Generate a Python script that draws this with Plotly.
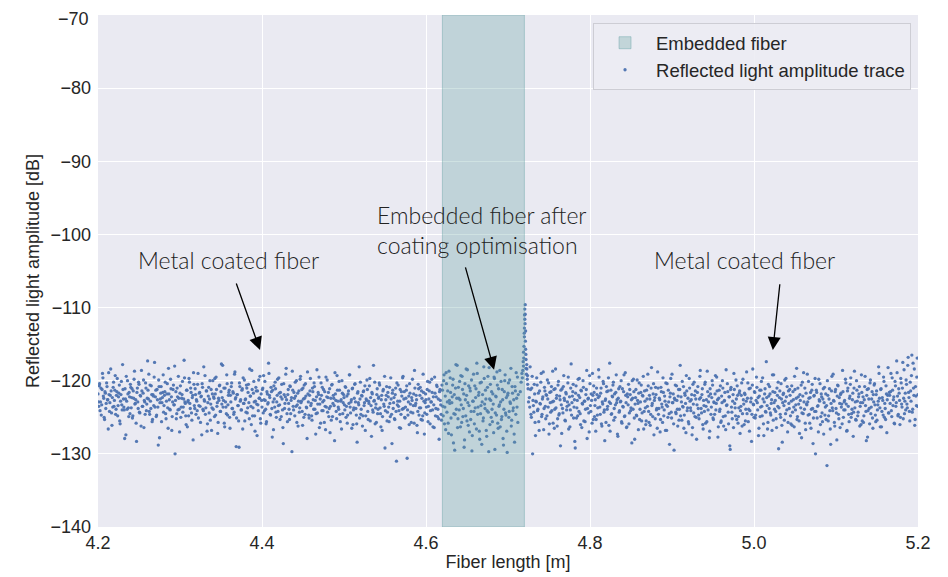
import plotly.graph_objects as go

# ---------------- data ----------------
sample_step = 0.001  # 1 mm sampling of the trace

# Left metal-coated section, first pass of samples from 4.2000 m
left_start = 4.2000
left_y = [
    -121.8,-123.5,-120.4,-122.9,-124.7,-121.2,-119.6,-122.4,-125.3,-121.7,-123.1,-120.8,-122.6,-118.9,-124.2,-122.0,-121.4,-126.1,-123.6,-120.2,
    -122.7,-119.3,-123.9,-121.5,-124.8,-122.2,-120.6,-125.9,-121.9,-123.3,-117.8,-122.5,-124.0,-121.1,-127.4,-122.8,-120.0,-123.7,-121.6,-124.5,
    -120.9,-122.3,-125.1,-121.4,-119.8,-123.2,-122.6,-128.3,-121.0,-123.8,-120.5,-124.4,-122.1,-118.6,-123.5,-121.7,-126.4,-122.9,-120.3,-124.1,
    -122.4,-121.3,-119.1,-124.6,-122.8,-120.7,-125.6,-121.9,-123.4,-117.5,-122.2,-124.9,-121.2,-123.6,-119.9,-127.8,-122.5,-120.8,-123.0,-121.6,
    -124.3,-122.0,-120.2,-125.2,-121.8,-123.7,-118.3,-122.6,-124.0,-121.1,-126.8,-122.9,-120.6,-123.3,-130.0,-121.5,-124.5,-122.2,-119.4,-123.9,
    -121.7,-125.0,-122.4,-120.1,-123.6,-117.2,-122.9,-124.8,-121.3,-126.3,-122.7,-119.7,-123.1,-121.0,-124.4,-122.3,-128.1,-120.5,-123.8,-121.9,
    -122.6,-124.1,-119.0,-123.4,-121.6,-125.7,-122.1,-120.4,-123.9,-118.1,-122.8,-124.6,-121.4,-126.9,-123.0,-120.9,-122.5,-125.4,-121.2,-123.7,
    -120.0,-122.2,-124.9,-121.8,-119.5,-123.5,-127.2,-122.4,-120.7,-124.2,-121.5,-123.2,-117.9,-122.7,-125.8,-121.0,-123.6,-119.2,-124.7,-122.0,
    -121.3,-126.5,-122.9,-120.3,-123.8,-121.7,-124.3,-118.8,-122.3,-125.1,-121.9,-123.4,-129.1,-120.8,-122.6,-124.0,-121.1,-119.6,-123.1,-125.5,
    -122.5,-120.6,-124.4,-121.6,-123.0,-118.4,-122.1,-126.0,-121.2,-123.7,-120.1,-124.8,-122.8,-121.4,-127.5,-123.3,-119.9,-122.4,-125.2,-121.8,
    -123.6,-121.0,-119.3,-124.1,-122.7,-125.9,-121.5,-123.2,-117.6,-122.0,-124.6,-120.9,-123.8,-121.3,-126.7,-122.5,-120.2,-124.3,-122.9,-119.8,
    -123.4,-121.7,-125.3,-122.2,-120.5,-124.0,-128.6,-121.9,-123.1,-119.1,-122.6,-125.6,-121.2,-123.9,-120.7,-124.5,-122.3,-118.7,-123.5,-121.6,
    -124.8,-122.1,-120.0,-123.3,-126.2,-121.4,-123.7,-119.4,-122.8,-124.2,-121.0,-125.0,-122.4,-120.4,-123.6,-127.9,-121.8,-124.7,-122.0,-119.7,
    -123.1,-125.4,-121.5,-123.9,-120.8,-122.7,-124.5,-118.5,-123.2,-121.9,-126.4,-122.5,-120.3,-124.1,-122.9,-121.2,-125.7,-123.5,-119.5,-122.2,
    -124.3,-121.6,-123.8,-127.1,-122.4,-120.6,-124.9,-122.0,-123.4,-118.9,-122.7,-125.2,-121.3,-123.6,-120.1,-124.6,-122.8,-126.6,-121.7,-123.0,
    -122.3,-124.0,-120.9,-123.5,-125.8,-121.8,-123.1,-119.2,-124.4,-122.6,-121.1,-126.0,-123.7,-120.5,-122.9,-124.7,-128.4,-121.5,-123.3,-125.1,
    -120.2,-123.9,-122.1,-124.8,-121.4,-123.0,-126.8,-122.5,-119.9,-124.2,-122.8,-120.7,-125.5,-123.4,-121.6,-124.0,-117.9,-122.7,-125.9,-123.2,
    -121.9,-124.5,-122.4,-120.3,-123.7,-126.3,-122.0,-124.9,-121.2,-123.5,-129.2,-122.6,-120.8,-124.3,-122.2,-125.6,-123.1,-119.6,-124.6,-121.7,
    -123.8,-122.3,-125.3,-121.0,-131.0,-123.3,-120.6,-124.1,-122.8,-126.5,-121.5,-123.9,-119.4,-122.5,-125.0,-123.6,-121.3,-130.6,-124.7,-122.1,
    -120.4,-123.2,-125.7,-122.7,-124.4,-121.8,-118.6,-123.4,-122.0,-126.1,-124.2,-121.1,-123.7,-120.9,-125.3,-122.4,-124.8,-121.6,-127.3,-123.0,
    -122.6,-124.6,-120.1,-123.5,-121.4,-125.9,-122.9,-119.8,-124.0,-122.2,-126.4,-121.7,-123.8,-120.6,-124.9,-122.5,-128.0,-121.2,-123.3,-125.4,
]
# Left section, second pass of samples from 4.2005 m
left2_start = 4.2005
left2_y = [
    -122.9,-120.7,-124.1,-121.0,-123.3,-119.0,-122.1,-125.0,-121.5,-123.8,-120.3,-122.6,-126.6,-121.9,-123.0,-118.4,-124.4,-122.3,-120.9,-123.5,
    -121.3,-124.6,-122.0,-119.7,-123.4,-121.7,-125.5,-122.8,-120.1,-124.0,-121.2,-123.6,-127.9,-122.5,-119.4,-123.9,-121.8,-124.9,-122.2,-120.5,
    -123.7,-121.1,-124.8,-122.4,-118.7,-123.1,-125.8,-121.6,-122.9,-120.2,-124.3,-122.0,-126.2,-121.4,-123.5,-119.9,-122.7,-124.6,-121.0,-123.2,
    -117.3,-122.5,-124.2,-120.6,-123.8,-121.9,-125.3,-122.1,-119.5,-123.6,-121.3,-124.7,-122.6,-128.8,-120.8,-123.0,-121.7,-125.6,-122.3,-119.2,
    -123.4,-121.5,-124.5,-122.8,-120.4,-126.5,-121.8,-123.9,-119.8,-122.2,-124.9,-121.2,-123.3,-118.0,-122.7,-125.2,-121.0,-124.0,-122.4,-127.0,
    -120.7,-123.6,-121.9,-124.3,-122.5,-119.6,-123.1,-126.0,-121.3,-122.9,-124.8,-120.2,-123.8,-121.6,-125.4,-122.0,-118.9,-123.4,-121.1,-124.6,
    -122.8,-120.5,-125.1,-121.7,-123.5,-122.2,-127.4,-120.9,-124.1,-122.6,-119.3,-123.7,-121.4,-125.9,-122.1,-124.4,-120.0,-123.2,-126.8,-121.8,
    -123.9,-122.4,-119.7,-124.7,-121.2,-123.0,-125.7,-122.7,-120.6,-124.2,-117.7,-122.3,-123.6,-121.0,-126.3,-122.9,-124.5,-120.4,-123.3,-121.6,
    -125.0,-122.0,-120.8,-123.8,-121.5,-124.6,-119.1,-122.5,-129.0,-121.9,-123.4,-125.5,-120.3,-122.8,-124.0,-121.3,-126.6,-123.1,-119.9,-122.6,
    -124.3,-121.0,-123.7,-120.5,-125.2,-122.1,-123.5,-118.6,-124.8,-121.7,-122.9,-126.9,-120.9,-123.2,-121.4,-124.1,-122.4,-119.4,-125.8,-122.7,
    -121.2,-124.4,-122.6,-120.1,-123.9,-125.6,-121.8,-123.0,-119.0,-122.3,-124.7,-121.5,-127.7,-122.9,-120.7,-123.6,-121.1,-125.0,-122.0,-124.2,
    -119.6,-123.3,-121.6,-124.9,-122.5,-126.4,-120.4,-123.8,-122.2,-118.3,-124.5,-121.9,-123.1,-125.3,-120.8,-122.7,-129.7,-121.3,-124.0,-122.4,
    -120.2,-123.5,-125.7,-121.7,-122.8,-124.3,-119.8,-123.0,-121.2,-126.1,-122.5,-120.6,-124.6,-122.1,-123.7,-118.8,-122.9,-125.1,-121.4,-123.4,
    -124.8,-121.0,-122.6,-120.3,-123.9,-127.3,-122.2,-124.4,-121.6,-119.5,-123.2,-125.8,-122.0,-120.9,-124.1,-122.7,-121.5,-126.7,-123.6,-119.9,
    -122.3,-124.9,-121.1,-123.5,-125.4,-120.5,-123.1,-122.4,-128.2,-121.8,-124.2,-119.3,-122.8,-123.9,-121.3,-125.6,-122.6,-120.0,-124.5,-121.9,
    -123.3,-120.8,-125.0,-122.1,-124.7,-121.4,-119.2,-123.6,-122.9,-126.5,-121.0,-124.0,-122.4,-120.4,-123.8,-125.9,-121.7,-123.0,-118.1,-122.5,
    -124.6,-122.0,-126.2,-121.5,-123.4,-120.7,-124.8,-122.7,-121.2,-125.3,-123.1,-119.7,-122.3,-127.6,-121.8,-124.3,-122.8,-120.2,-123.7,-125.7,
    -121.1,-123.9,-122.2,-120.6,-124.5,-122.6,-126.8,-121.4,-123.2,-119.4,-124.1,-122.0,-125.5,-121.6,-123.6,-120.9,-124.9,-122.5,-128.6,-121.3,
    -123.0,-125.2,-121.9,-124.2,-120.3,-122.8,-123.5,-126.4,-121.2,-124.6,-122.1,-119.6,-123.8,-121.5,-125.1,-122.4,-120.7,-124.0,-122.9,-126.0,
    -121.7,-124.3,-122.3,-119.8,-123.4,-125.8,-121.0,-123.1,-122.6,-127.1,-120.5,-124.7,-122.0,-123.7,-121.4,-125.4,-119.1,-122.8,-124.4,-121.8,
    -123.6,-121.2,-125.6,-122.5,-120.2,-124.1,-122.9,-121.6,-126.3,-123.3,-119.5,-124.8,-122.2,-120.8,-123.9,-125.2,-121.5,-122.7,-124.6,-120.6,
]

# Embedded section (wider spread), two passes from 4.6200 m and 4.6205 m
emb_start = 4.6200
emb_y = [
    -121.3,-124.8,-119.2,-123.6,-126.7,-120.4,-122.9,-125.8,-118.7,-123.1,-121.6,-127.4,-122.2,-119.8,-124.5,-129.5,-121.0,-123.9,-117.9,-125.2,
    -122.4,-120.1,-126.3,-123.3,-119.4,-124.9,-121.8,-128.1,-122.6,-118.4,-125.5,-123.0,-120.7,-127.0,-121.4,-124.2,-129.6,-122.8,-119.1,-125.9,
    -123.7,-121.1,-117.6,-124.6,-122.0,-126.9,-120.3,-123.4,-128.7,-121.9,-125.1,-119.7,-123.8,-122.5,-127.6,-120.9,-124.3,-118.2,-126.0,-122.7,
    -121.5,-125.6,-123.2,-119.5,-129.4,-122.1,-124.7,-120.6,-126.5,-123.5,-118.6,-122.9,-125.3,-121.2,-127.9,-123.9,-120.0,-124.4,-122.3,-129.8,
    -121.7,-125.0,-119.9,-123.1,-126.2,-120.8,-124.1,-122.6,-128.4,-121.4,-118.9,-123.6,-125.7,
]
emb2_start = 4.6205
emb2_y = [
    -123.5,-120.0,-125.9,-122.1,-118.9,-124.3,-121.4,-127.2,-122.7,-119.6,-125.1,-123.0,-120.6,-128.5,-121.9,-124.6,-117.8,-122.4,-126.4,-120.9,
    -124.0,-122.6,-119.3,-125.7,-121.2,-123.8,-129.1,-120.4,-124.8,-122.0,-118.5,-126.1,-123.4,-121.0,-125.3,-119.9,-127.5,-122.8,-124.2,-120.7,
    -122.3,-126.6,-119.0,-123.6,-121.6,-128.0,-124.5,-120.2,-122.9,-125.5,-118.1,-123.2,-121.3,-126.8,-124.1,-119.4,-129.7,-122.5,-120.5,-125.0,
    -123.9,-121.8,-127.1,-119.7,-124.4,-122.2,-118.8,-125.8,-121.1,-123.3,-126.3,-120.1,-124.9,-122.6,-128.8,-121.5,-119.2,-124.7,-126.9,-122.0,
    -120.3,-124.2,-122.9,-118.3,-125.4,-121.7,-123.7,-127.3,-120.8,-124.6,-122.4,-119.5,-121.9,
]

# Reflection spike at the exit of the embedded section
spike_x = [4.7150,4.7160,4.7170,4.7175,4.7180,4.7185,4.7188,4.7190,4.7192,4.7195,4.7198,4.7200,4.7200,
           4.7202,4.7205,4.7205,4.7208,4.7210,4.7210,4.7212,4.7215,4.7215,4.7218,4.7220,4.7220,4.7225,
           4.7228,4.7230,4.7235,4.7238,4.7240,4.7245,4.7250]
spike_y = [-121.5,-120.2,-119.0,-119.6,-118.6,-117.4,-118.0,-116.1,-116.9,-115.3,-113.5,-114.0,-112.8,
           -111.0,-111.6,-110.2,-112.2,-109.6,-110.9,-114.6,-113.2,-115.7,-116.4,-117.1,-118.3,-119.1,
           -117.8,-118.4,-119.8,-119.3,-120.5,-121.1,-122.9]

# Right metal-coated section, two passes from 4.7260 m and 4.7265 m
right_start = 4.7260
right_y = [
    -122.3,-118.1,-124.6,-121.0,-130.0,-123.4,-120.5,-125.7,-122.8,-119.6,-124.1,-121.7,-126.8,-123.1,-120.2,-124.9,-122.5,-118.8,-123.8,-121.4,
    -125.2,-122.0,-119.9,-123.6,-127.3,-121.6,-124.3,-120.8,-122.9,-125.8,-121.2,-123.9,-118.4,-122.4,-126.2,-120.6,-124.7,-122.1,-128.9,-123.3,
    -121.1,-124.4,-119.3,-122.7,-125.5,-121.8,-123.5,-120.3,-126.6,-122.2,-124.0,-117.7,-123.0,-121.5,-125.1,-122.6,-129.2,-120.7,-123.7,-124.8,
    -122.0,-119.7,-124.5,-121.3,-126.4,-123.2,-120.9,-122.8,-125.6,-121.9,-118.6,-123.8,-122.4,-127.0,-120.4,-124.2,-122.7,-119.0,-125.3,-121.6,
    -123.4,-126.9,-121.0,-124.7,-122.3,-119.5,-123.6,-121.7,-125.9,-122.9,-120.1,-124.3,-128.2,-122.5,-120.8,-123.9,-121.4,-126.1,-117.6,-123.1,
    -124.6,-122.1,-120.6,-125.4,-121.8,-123.3,-119.2,-122.6,-127.6,-121.1,-124.1,-122.9,-120.0,-125.8,-123.5,-121.5,-124.9,-118.9,-123.0,-126.3,
    -122.2,-120.5,-124.4,-121.9,-123.7,-128.5,-122.4,-119.8,-125.1,-123.2,-121.2,-124.8,-122.7,-126.7,-120.3,-123.9,-121.6,-125.5,-122.0,-119.4,
    -124.2,-122.8,-126.0,-121.3,-123.5,-120.7,-125.7,-122.5,-124.6,-118.2,-123.1,-121.8,-127.4,-122.3,-120.9,-124.0,-126.5,-121.0,-123.8,-122.6,
    -125.3,-121.5,-123.6,-119.6,-124.8,-122.1,-126.8,-123.3,-120.4,-125.0,-122.9,-128.7,-121.7,-124.3,-119.1,-123.0,-125.9,-122.4,-120.6,-124.5,
    -122.7,-126.2,-121.2,-123.9,-117.9,-122.2,-125.4,-123.5,-120.8,-124.7,-122.0,-127.1,-121.4,-123.7,-125.6,-119.7,-122.8,-124.1,-121.9,-126.4,
    -123.2,-120.2,-124.9,-122.5,-128.0,-121.6,-123.8,-125.2,-119.4,-122.3,-124.4,-121.1,-126.6,-123.4,-120.5,-125.8,-122.6,-118.7,-124.0,-122.1,
    -126.9,-121.8,-123.6,-120.0,-125.1,-122.9,-124.6,-119.3,-123.1,-121.4,-127.7,-122.4,-124.2,-120.7,-125.5,-123.0,-121.0,-126.2,-122.7,-124.8,
    -118.5,-123.3,-121.5,-125.9,-122.2,-129.4,-120.9,-124.3,-122.8,-126.4,-121.2,-123.7,-119.9,-125.3,-122.0,-124.9,-121.7,-127.2,-123.5,-120.3,
    -124.5,-122.6,-126.0,-121.9,-123.9,-118.8,-122.4,-125.6,-121.1,-124.1,-122.9,-128.3,-120.6,-123.2,-125.0,-121.6,-124.7,-119.5,-123.0,-122.3,
    -126.5,-121.3,-123.6,-120.1,-124.8,-122.5,-127.5,-121.8,-124.2,-117.4,-123.4,-125.7,-122.1,-120.8,-124.4,-123.1,-126.8,-121.5,-119.2,-123.9,
    -122.7,-125.2,-121.0,-123.5,-129.3,-122.3,-124.6,-120.4,-126.1,-123.0,-121.7,-125.4,-122.8,-119.7,-124.0,-127.0,-121.4,-123.8,-122.0,-125.9,
    -120.7,-124.3,-122.6,-126.3,-121.2,-123.3,-118.3,-124.9,-122.2,-125.5,-121.9,-123.7,-127.8,-120.2,-124.5,-122.9,-121.0,-126.7,-123.2,-119.1,
    -124.7,-122.4,-125.8,-121.6,-123.9,-120.5,-128.6,-122.1,-124.2,-130.0,-121.3,-125.1,-123.4,-119.8,-122.8,-126.0,-121.8,-124.4,-122.5,-127.3,
    -120.9,-123.6,-125.3,-131.6,-122.0,-124.8,-121.1,-126.6,-123.1,-119.4,-124.1,-122.7,-125.7,-121.5,-123.8,-128.1,-120.6,-124.6,-122.3,-126.4,
    -121.7,-123.2,-118.6,-125.0,-122.9,-124.0,-120.3,-126.9,-121.4,-123.5,-125.6,-122.1,-119.6,-124.5,-122.6,-127.6,-121.0,-123.7,-125.3,-120.0,
    -122.8,-124.3,-121.8,-126.2,-123.0,-119.2,-125.5,-122.2,-124.8,-120.8,-123.4,-128.2,-121.2,-124.1,-122.5,-125.9,-119.9,-123.6,-121.5,-126.5,
    -122.9,-120.4,-124.7,-121.9,-125.4,-123.3,-118.1,-122.4,-126.3,-121.1,-124.2,-122.7,-119.5,-125.0,-123.8,-120.7,-127.1,-122.0,-124.4,-121.6,
    -123.1,-119.0,-124.9,-121.3,-122.6,-125.8,-120.1,-123.5,-117.3,-122.1,-124.6,-121.7,-126.0,-119.7,-123.2,-121.0,-125.2,-118.5,-122.8,-124.0,
    -120.5,-123.7,-116.8,-122.3,-125.5,-121.4,-119.3,-124.3,-117.6,-122.0,-126.1,-120.8,-123.4,-116.9,-121.9,
]
right2_start = 4.7265
right2_y = [
    -123.6,-121.2,-125.0,-119.4,-122.7,-124.3,-121.8,-127.5,-122.9,-120.6,-123.9,-125.6,-121.4,-123.2,-119.0,-124.6,-122.2,-126.7,-120.9,-123.5,
    -121.9,-124.8,-122.5,-120.3,-125.9,-123.0,-121.5,-124.1,-118.7,-122.8,-126.5,-121.1,-123.7,-122.0,-125.2,-120.1,-124.5,-122.6,-121.3,-127.2,
    -123.8,-120.8,-122.4,-125.4,-121.6,-124.0,-122.9,-119.5,-123.3,-126.3,-121.0,-124.7,-122.1,-120.5,-123.6,-128.3,-121.7,-125.1,-122.7,-119.8,
    -124.2,-122.3,-126.0,-121.4,-123.1,-120.0,-125.5,-122.8,-123.9,-121.2,-127.9,-122.5,-124.4,-119.3,-123.4,-121.8,-125.8,-122.0,-120.7,-124.9,
    -122.6,-125.3,-121.9,-123.7,-118.5,-122.1,-124.6,-121.0,-126.2,-123.2,-120.4,-124.0,-122.7,-125.7,-121.5,-123.5,-119.6,-122.9,-126.9,-121.3,
    -124.5,-122.2,-120.2,-123.8,-125.0,-121.6,-123.0,-127.3,-122.4,-124.3,-120.8,-122.8,-125.6,-121.1,-123.6,-119.2,-124.8,-122.0,-126.4,-121.8,
    -123.3,-125.9,-121.2,-124.1,-122.6,-120.0,-123.9,-121.5,-128.0,-122.3,-124.7,-119.9,-123.1,-121.7,-125.3,-122.9,-120.6,-124.4,-122.1,-126.6,
    -121.4,-123.7,-125.5,-122.5,-119.1,-124.2,-122.0,-126.1,-121.0,-123.4,-124.9,-120.4,-122.7,-125.2,-121.9,-123.8,-118.8,-124.6,-122.4,-127.0,
    -120.9,-123.2,-125.7,-121.6,-124.0,-122.8,-120.3,-126.8,-123.5,-121.3,-124.5,-122.2,-119.7,-125.1,-123.0,-121.8,-129.5,-122.6,-124.3,-120.7,
    -123.9,-122.1,-125.4,-121.2,-124.8,-122.9,-120.1,-123.6,-126.5,-121.7,-123.1,-119.3,-124.1,-122.4,-125.9,-121.0,-123.7,-122.6,-127.4,-120.5,
    -124.4,-122.0,-121.4,-125.0,-123.3,-120.8,-124.7,-122.5,-118.6,-123.8,-121.9,-126.0,-122.7,-124.2,-120.2,-123.5,-125.6,-121.5,-122.9,-127.8,
    -121.1,-124.6,-122.3,-120.6,-125.3,-123.0,-121.8,-124.0,-119.5,-122.6,-126.3,-121.3,-123.9,-125.7,-122.1,-120.0,-124.9,-122.8,-121.6,-126.7,
    -123.4,-120.4,-124.3,-122.2,-128.9,-121.2,-123.6,-125.2,-121.9,-119.0,-123.1,-124.8,-122.5,-120.7,-125.8,-123.7,-121.4,-124.1,-122.0,-126.2,
    -119.8,-123.2,-121.7,-125.5,-122.8,-124.5,-120.3,-123.9,-126.9,-121.0,-122.4,-124.6,-118.4,-123.3,-121.5,-125.1,-122.7,-120.9,-124.0,-127.5,
    -122.1,-124.9,-121.3,-123.5,-119.6,-125.9,-122.9,-121.1,-124.3,-122.3,-126.6,-120.5,-123.8,-121.8,-124.7,-122.6,-119.2,-125.4,-123.0,-121.6,
    -124.2,-126.4,-122.0,-120.2,-123.7,-121.4,-125.0,-122.5,-128.4,-121.9,-123.4,-119.9,-124.5,-122.2,-120.8,-125.7,-123.1,-121.2,-124.8,-122.8,
    -126.1,-121.5,-123.6,-119.4,-124.0,-122.4,-125.3,-121.0,-123.2,-127.2,-122.7,-120.6,-124.4,-122.1,-118.9,-123.9,-125.8,-121.7,-123.3,-122.9,
    -120.1,-124.6,-122.3,-126.5,-121.3,-123.8,-125.1,-122.0,-119.7,-124.2,-121.6,-123.5,-127.0,-122.6,-120.4,-124.9,-122.2,-125.6,-121.1,-123.0,
    -124.7,-121.8,-123.4,-120.0,-125.5,-122.5,-124.1,-128.7,-121.4,-123.7,-119.1,-122.8,-126.2,-121.2,-124.4,-122.1,-120.7,-125.2,-123.1,-121.9,
    -123.6,-125.9,-121.5,-124.0,-122.7,-119.8,-123.2,-126.8,-121.0,-124.6,-122.4,-120.5,-125.0,-123.9,-121.7,-124.3,-118.7,-122.9,-125.4,-121.3,
    -124.8,-122.2,-120.8,-123.5,-126.0,-121.6,-123.0,-125.7,-122.6,-119.4,-124.2,-122.0,-127.7,-121.1,-123.8,-120.3,-124.5,-122.5,-125.1,-121.9,
    -120.6,-123.3,-125.6,-121.4,-124.0,-122.8,-119.0,-123.7,-121.2,-126.3,-122.3,-124.7,-120.1,-123.1,-125.3,-121.8,-122.6,-118.2,-124.4,-122.0,
    -121.5,-124.1,-119.6,-123.4,-122.2,-125.9,-120.7,-123.0,-118.9,-124.8,-121.1,-122.7,-125.0,-120.3,-123.6,-117.5,-122.4,-124.5,-121.7,-119.9,
    -123.2,-117.9,-121.6,-124.2,-120.2,-122.8,-116.5,-123.9,-121.0,-118.4,-125.3,-122.1,-119.5,-123.5,
]

embedded_start, embedded_end = 4.62, 4.72
x_range = [4.2, 5.2]
y_range = [-140, -70]
x_ticks = [4.2, 4.4, 4.6, 4.8, 5.0, 5.2]
y_ticks = [-140, -130, -120, -110, -100, -90, -80, -70]

# ---------------- build trace ----------------
def grid(start, n):
    return [round(start + i * sample_step, 4) for i in range(n)]

segments = [(left_start, left_y), (left2_start, left2_y), (emb_start, emb_y),
            (emb2_start, emb2_y), (right_start, right_y), (right2_start, right2_y)]
trace_x, trace_y = [], []
for start, ys in segments:
    trace_x += grid(start, len(ys))
    trace_y += ys
trace_x += spike_x
trace_y += spike_y

fig = go.Figure()
fig.add_trace(go.Scatter(
    x=trace_x, y=trace_y, mode="markers",
    name="Reflected light amplitude trace",
    marker=dict(color="#4C72B0", size=3.3, opacity=0.95, line=dict(width=0)),
    legendrank=2,
))

fig.add_shape(type="rect", xref="x", yref="y",
              x0=embedded_start, x1=embedded_end, y0=y_range[0], y1=y_range[1],
              fillcolor="rgba(95,158,160,0.3)", line=dict(color="rgba(95,158,160,0.4)", width=1),
              layer="above", showlegend=True, name="Embedded fiber", legendrank=1)

tick_font = dict(family="Arial, Liberation Sans, sans-serif", size=18, color="#262626")
label_font = dict(family="Arial, Liberation Sans, sans-serif", size=18, color="#262626")
# page body has an 8px margin: figure is sized/offset so the plot area lands at x 98-918, y 15-527
fig.update_layout(
    width=940, height=569,
    margin=dict(l=90, r=30, t=7, b=50),
    paper_bgcolor="white", plot_bgcolor="#EAEAF2",
    font=tick_font,
    showlegend=True,
    legend=dict(x=0.9915, y=0.984, xanchor="right", yanchor="top",
                bgcolor="rgba(236,236,243,0.9)", bordercolor="#cdcdd4", borderwidth=1,
                font=dict(family="Arial, Liberation Sans, sans-serif", size=18.5, color="#262626"),
                itemwidth=52, tracegroupgap=2),
)
fig.update_xaxes(range=x_range, tickvals=x_ticks, ticktext=[f"{v:.1f}" for v in x_ticks],
                 showgrid=True, gridcolor="white", gridwidth=1.3, zeroline=False, showline=False,
                 ticks="", tickfont=tick_font, ticklabelstandoff=3,
                 title=dict(text="Fiber length [m]", font=label_font, standoff=3))
# the top tick label is written as an annotation (plotly drops it at the figure edge)
fig.update_yaxes(range=y_range, tickvals=y_ticks,
                 ticktext=["\u2212" + str(abs(v)) if v != y_range[1] else "" for v in y_ticks],
                 showgrid=True, gridcolor="white", gridwidth=1.3, zeroline=False, showline=False,
                 ticks="", tickfont=tick_font, ticklabelstandoff=6,
                 title=dict(text="Reflected light amplitude [dB]", font=label_font, standoff=6))
fig.add_annotation(x=0, xref="paper", y=y_range[1], yref="y", xanchor="right", yanchor="middle",
                   xshift=-7, yshift=-4, text="\u2212" + str(abs(y_range[1])),
                   showarrow=False, font=tick_font)

ann_font = dict(family="Lato, Open Sans, sans-serif", size=23, color="#222222", weight=300)
texts = [
    dict(x=4.359, y=-103.5, text="Metal coated fiber", xanchor="center", align="center"),
    dict(x=4.5378, y=-99.4, text="Embedded fiber after<br>coating optimisation", xanchor="left", align="left"),
    dict(x=4.9878, y=-103.5, text="Metal coated fiber", xanchor="center", align="center"),
]
for t in texts:
    fig.add_annotation(x=t["x"], y=t["y"], text=t["text"], xanchor=t["xanchor"],
                       align=t["align"], showarrow=False, font=ann_font)

arrows = [
    ((4.3976, -115.8), (4.368, -106.5)),
    ((4.683, -118.5), (4.6476, -104.3)),
    ((5.023, -115.8), (5.0317, -106.6)),
]
for (hx, hy), (tx, ty) in arrows:
    fig.add_annotation(x=hx, y=hy, ax=tx, ay=ty, axref="x", ayref="y", xref="x", yref="y",
                       text="", showarrow=True, arrowhead=2, arrowsize=2.0, arrowwidth=1.3,
                       arrowcolor="black")

fig.write_html("out.html")
